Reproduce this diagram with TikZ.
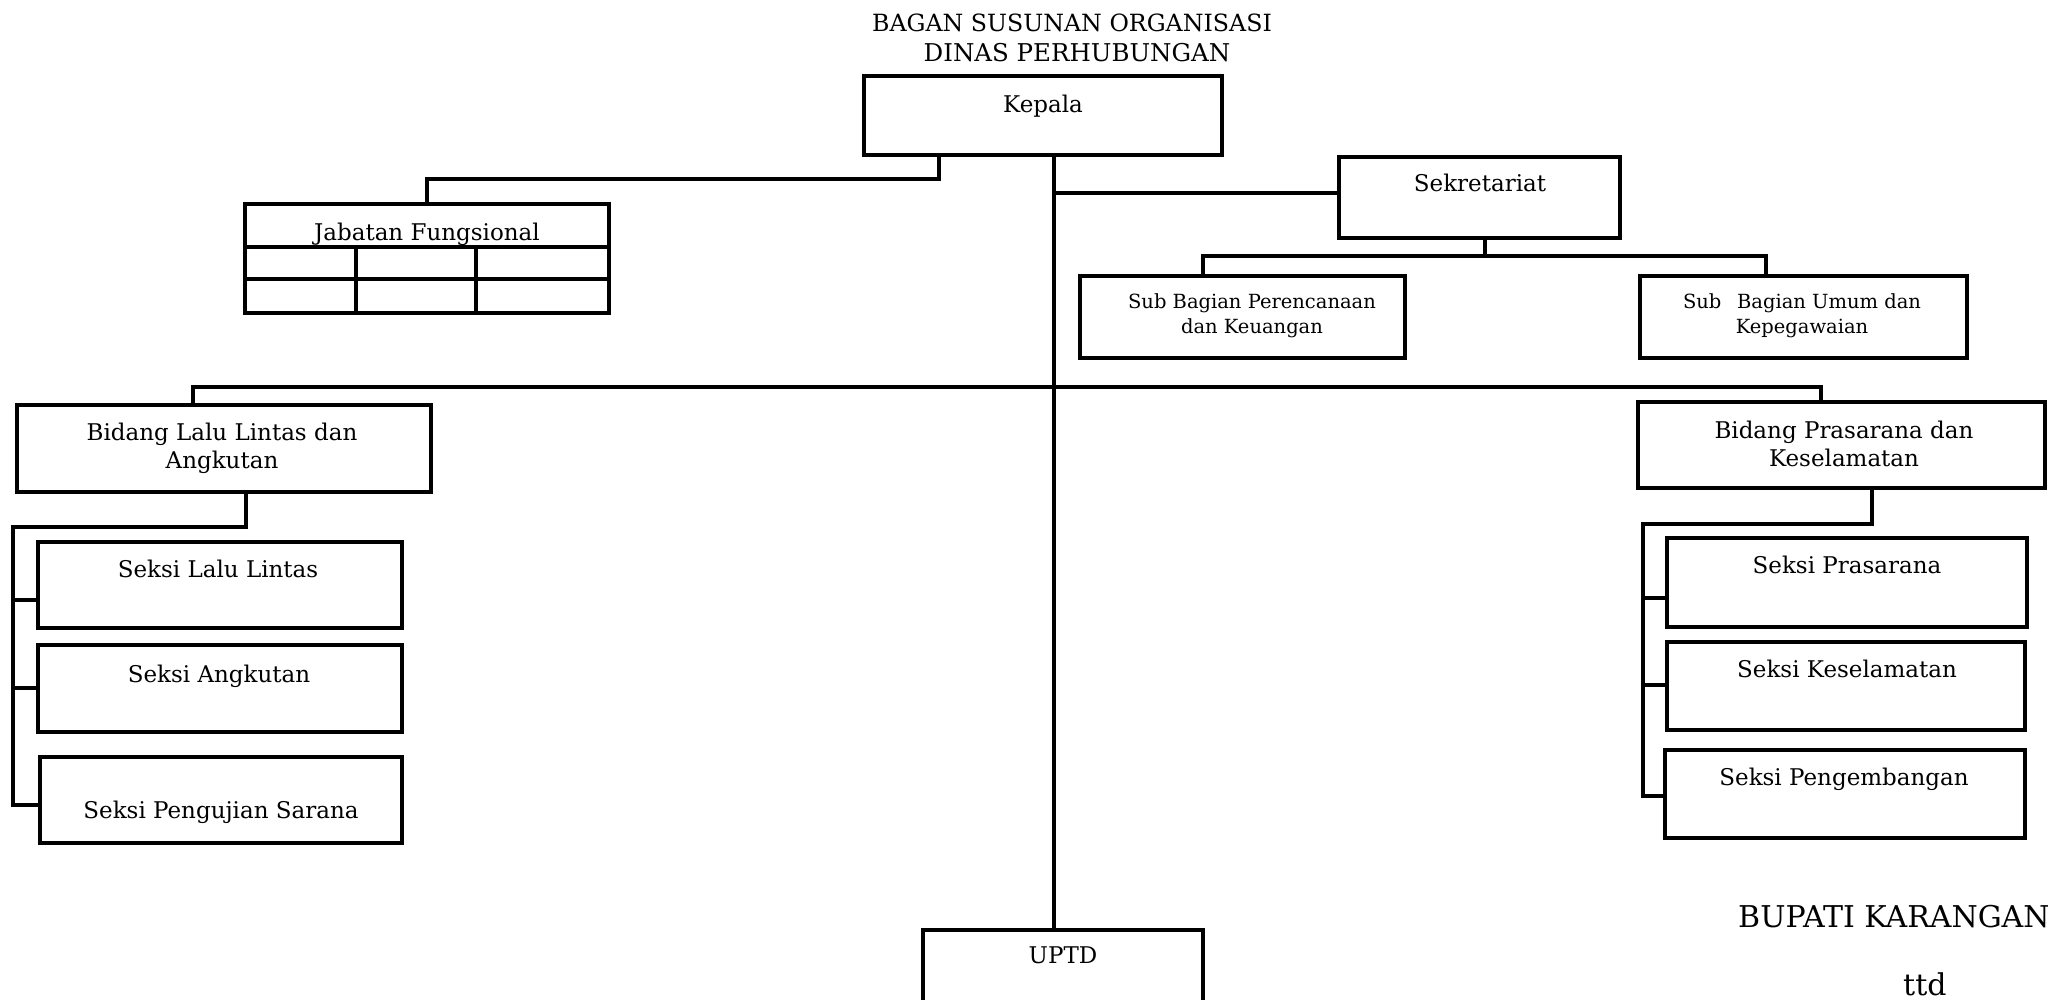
\documentclass[tikz,border=0pt]{standalone}
\usepackage{fontspec}
\setmainfont{DejaVu Serif}
\begin{document}
\begin{tikzpicture}[x=1pt,y=-1pt,
  box/.style={draw, line width=3.7pt, inner sep=0pt, line join=miter},
  ln/.style={line width=3.7pt, line join=miter},
  txt/.style={font=\fontsize{23}{28}\selectfont, inner sep=0pt, align=center},
  small/.style={font=\fontsize{19.5}{25}\selectfont, inner sep=0pt, align=center},
  big/.style={font=\fontsize{30}{36}\selectfont, inner sep=0pt},
  ttl/.style={font=\fontsize{24.5}{30}\selectfont, inner sep=0pt},
]
\useasboundingbox (0,0) rectangle (2048,1000);
\clip (0,0) rectangle (2048,1000);
\fill[white] (0,0) rectangle (2048,1000);

% title
\node[ttl, anchor=base, font=\fontsize{23.7}{30}\selectfont] (t1) at (1072,32) {BAGAN SUSUNAN ORGANISASI};
\node[ttl, anchor=base] (t2) at (1077,62) {DINAS PERHUBUNGAN};

% boxes
\node[box, minimum width=358pt, minimum height=79pt] (kep) at (1043,115.5) {};
\node[box, minimum width=364pt, minimum height=109pt] (jab) at (427,258.5) {};
\node[box, minimum width=281pt, minimum height=81pt] (sek) at (1479.5,197.5) {};
\node[box, minimum width=325pt, minimum height=82pt] (spp) at (1242.5,317) {};
\node[box, minimum width=327pt, minimum height=82pt] (spu) at (1803.5,317) {};
\node[box, minimum width=414pt, minimum height=87pt] (bll) at (224,448.5) {};
\node[box, minimum width=407pt, minimum height=86pt] (bpk) at (1841.5,445) {};
\node[box, minimum width=364pt, minimum height=86pt] (sll) at (220,585) {};
\node[box, minimum width=364pt, minimum height=87pt] (sak) at (220,688.5) {};
\node[box, minimum width=362pt, minimum height=86pt] (spj) at (221,800) {};
\node[box, minimum width=360pt, minimum height=89pt] (spr) at (1847,582.5) {};
\node[box, minimum width=358pt, minimum height=88pt] (skl) at (1846,686) {};
\node[box, minimum width=360pt, minimum height=88pt] (spg) at (1845,794) {};
\node[box, minimum width=280pt, minimum height=80pt] (uptd) at (1063,970) {};

% table lines of Jabatan Fungsional
\coordinate (r1) at (0,247);
\coordinate (r2) at (0,279);
\coordinate (c1) at (356,0);
\coordinate (c2) at (476,0);
\draw[ln] (jab.west |- r1) -- (jab.east |- r1);
\draw[ln] (jab.west |- r2) -- (jab.east |- r2);
\draw[ln] (jab.south -| c1) -- (c1 |- r1);
\draw[ln] (jab.south -| c2) -- (c2 |- r1);

% texts
\node[txt, anchor=base] (tkep) at (1043,113) {Kepala};
\node[txt, anchor=base] (tjab) at (427,241) {Jabatan Fungsional};
\node[txt, anchor=base] (tsek) at (1480,192) {Sekretariat};
\node[small] (tspp) at (1252,316) {Sub Bagian Perencanaan\\dan Keuangan};
\node[small] (tspu) at (1802,316) {Sub\ \ \,Bagian Umum dan\\Kepegawaian};
\node[txt] (tbll) at (222,448) {Bidang Lalu Lintas dan\\Angkutan};
\node[txt] (tbpk) at (1844,444) {Bidang Prasarana dan\\Keselamatan};
\node[txt, anchor=base] (tsll) at (218,577) {Seksi Lalu Lintas};
\node[txt, anchor=base] (tsak) at (219,682) {Seksi Angkutan};
\node[txt, anchor=base] (tspj) at (221,818) {Seksi Pengujian Sarana};
\node[txt, anchor=base] (tspr) at (1847,573) {Seksi Prasarana};
\node[txt, anchor=base] (tskl) at (1847,677) {Seksi Keselamatan};
\node[txt, anchor=base] (tspg) at (1844,785) {Seksi Pengembangan};
\node[txt, anchor=base] (tuptd) at (1063,963) {UPTD};
\node[big, anchor=base west] (bup) at (1738,927) {BUPATI KARANGAN};
\node[big, anchor=base west] (ttd) at (1903,995) {ttd};

% connectors
\coordinate (j1) at (939,179);
\draw[ln] (kep.south -| j1) |- (jab.north |- j1) -- (jab.north);

\coordinate (sp) at (1054,0);
\draw[ln] (kep.south -| sp) -- (uptd.north -| sp);

\coordinate (s1) at (1054,193);
\draw[ln] (s1) -- (s1 -| sek.west);

\coordinate (k0) at (1485,256);
\coordinate (k1) at (1203,256);
\coordinate (k2) at (1766,256);
\draw[ln] (sek.south -| k0) -- (k0);
\draw[ln] (spp.north -| k1) |- (k2) -- (spu.north -| k2);

\coordinate (h1) at (193,387);
\coordinate (h2) at (1821,387);
\draw[ln] (bll.north -| h1) |- (h2) -- (bpk.north -| h2);

\coordinate (l1) at (246,527);
\coordinate (l2) at (13,527);
\coordinate (l3) at (0,805);
\draw[ln] (bll.south -| l1) |- (l2) |- (spj.west |- l3);
\draw[ln] (l2 |- 0,600) -- (sll.west |- 0,600);
\draw[ln] (l2 |- 0,688) -- (sak.west |- 0,688);

\coordinate (m1) at (1872,524);
\coordinate (m2) at (1643,524);
\coordinate (m3) at (0,796);
\draw[ln] (bpk.south -| m1) |- (m2) |- (spg.west |- m3);
\draw[ln] (m2 |- 0,598) -- (spr.west |- 0,598);
\draw[ln] (m2 |- 0,685) -- (skl.west |- 0,685);
\end{tikzpicture}
\end{document}
